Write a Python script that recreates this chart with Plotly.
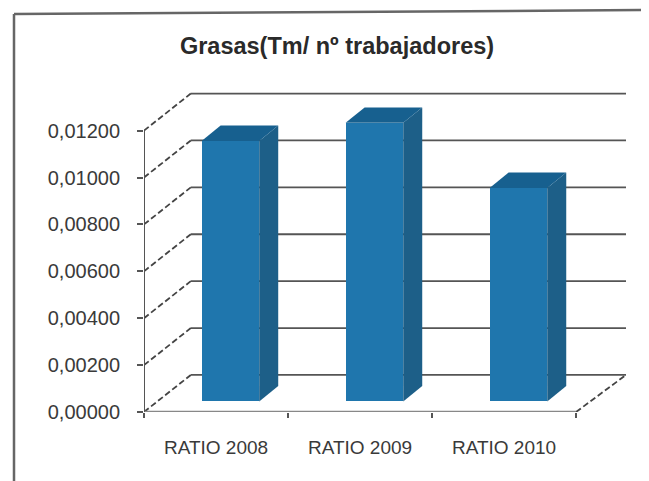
import plotly.graph_objects as go

categories = ["RATIO 2008", "RATIO 2009", "RATIO 2010"]
values = [0.01111, 0.01188, 0.0091]
y_ticks = [0, 0.002, 0.004, 0.006, 0.008, 0.01, 0.012]
y_labels = ["0,00000", "0,00200", "0,00400", "0,00600", "0,00800", "0,01000", "0,01200"]
title_text = "<b>Grasas(Tm/ nº trabajadores)</b>"

PAGE = 8
W, H = 649 - PAGE, 481 - PAGE
L, R, T, B = 136, 23, 72, 69
BAR_BASE = 0.00045
BAR_W = 0.40
BAR_SHIFT = 0.10
BAR_DX, BAR_DV = 0.132, 0.00066
WALL_DX, WALL_DV = 0.325, 0.00158
X0 = -0.5
X1 = 2.5
XMAX = 2.847
YMAX = (H - B - T) / 23450
C_FRONT, C_TOP, C_SIDE = "#1f76ad", "#17608f", "#1d5f88"
C_GRID, C_AXIS = "#555555", "#555555"

xs = list(range(len(categories)))
fig = go.Figure()

fig.add_trace(go.Bar(x=[i + BAR_SHIFT for i in xs], y=values, base=BAR_BASE, width=BAR_W,
                     marker=dict(color=C_FRONT, line=dict(width=0)), showlegend=False))

for i, v in zip(xs, values):
    l = i + BAR_SHIFT - BAR_W / 2
    r = i + BAR_SHIFT + BAR_W / 2
    top = BAR_BASE + v
    fig.add_trace(go.Scatter(
        x=[r, r + BAR_DX, r + BAR_DX, r, r],
        y=[BAR_BASE, BAR_BASE + BAR_DV, top + BAR_DV, top, BAR_BASE],
        mode="lines", fill="toself", fillcolor=C_SIDE, line=dict(width=0), showlegend=False))
    fig.add_trace(go.Scatter(
        x=[l, r, r + BAR_DX, l + BAR_DX, l],
        y=[top, top, top + BAR_DV, top + BAR_DV, top],
        mode="lines", fill="toself", fillcolor=C_TOP, line=dict(width=0), showlegend=False))

shapes = []
for t in y_ticks:
    shapes.append(dict(type="line", layer="below", xref="x", yref="y",
                       x0=X0 + WALL_DX, x1=XMAX, y0=t + WALL_DV, y1=t + WALL_DV,
                       line=dict(color=C_GRID, width=1.8)))
    shapes.append(dict(type="line", layer="below", xref="x", yref="y",
                       x0=X0, x1=X0 + WALL_DX, y0=t, y1=t + WALL_DV,
                       line=dict(color="#444444", width=1.8, dash="6px,3px")))
shapes.append(dict(type="line", layer="below", xref="x", yref="y",
                   x0=X1, x1=XMAX, y0=0, y1=WALL_DV,
                   line=dict(color="#444444", width=1.8, dash="6px,3px")))
shapes.append(dict(type="line", layer="above", xref="x", yref="y",
                   x0=X0, x1=X0, y0=0, y1=y_ticks[-1], line=dict(color=C_AXIS, width=2)))
shapes.append(dict(type="line", layer="below", xref="x", yref="y",
                   x0=X0, x1=X1, y0=0, y1=0, line=dict(color="#888888", width=2.4)))

# outer frame
pw, ph = W - L - R, H - T - B
px = lambda p: (p - L) / pw
py = lambda p: (H - B - p) / ph
shapes.append(dict(type="line", xref="paper", yref="paper", x0=px(6), x1=px(6), y0=py(6), y1=py(H),
                   line=dict(color="#666666", width=2.5)))
shapes.append(dict(type="line", xref="paper", yref="paper", x0=px(6), x1=px(W), y0=py(6), y1=py(2),
                   line=dict(color="#666666", width=2.5)))

font = "Liberation Sans, Arial, sans-serif"
fig.update_layout(
    width=W, height=H, margin=dict(l=L, r=R, t=T, b=B, autoexpand=False),
    paper_bgcolor="white", plot_bgcolor="rgba(0,0,0,0)", showlegend=False,
    shapes=shapes, bargap=0,
    title=dict(text=title_text, x=329 / W, y=1 - 38 / H, xanchor="center", yanchor="middle",
               font=dict(family=font, size=23.5, color="#2a2a2a")),
    xaxis=dict(range=[X0, XMAX], tickmode="array", tickvals=xs, ticktext=categories,
               showgrid=False, zeroline=False, showline=False, ticks="",
               ticklabelstandoff=22, tickfont=dict(family=font, size=19, color="#3a3a3a"),
               minor=dict(tickmode="array", tickvals=[-0.5, 0.5, 1.5, 2.5], ticks="outside",
                          ticklen=5, tickwidth=1.5, tickcolor=C_GRID, showgrid=False)),
    yaxis=dict(range=[0, YMAX], tickmode="array", tickvals=y_ticks, ticktext=y_labels,
               showgrid=False, zeroline=False, showline=False, ticks="outside", ticklen=6,
               tickwidth=1.5, tickcolor=C_GRID, ticklabelstandoff=13,
               tickfont=dict(family=font, size=20, color="#3a3a3a")),
)
fig.write_html("out.html", config=dict(displayModeBar=False))
